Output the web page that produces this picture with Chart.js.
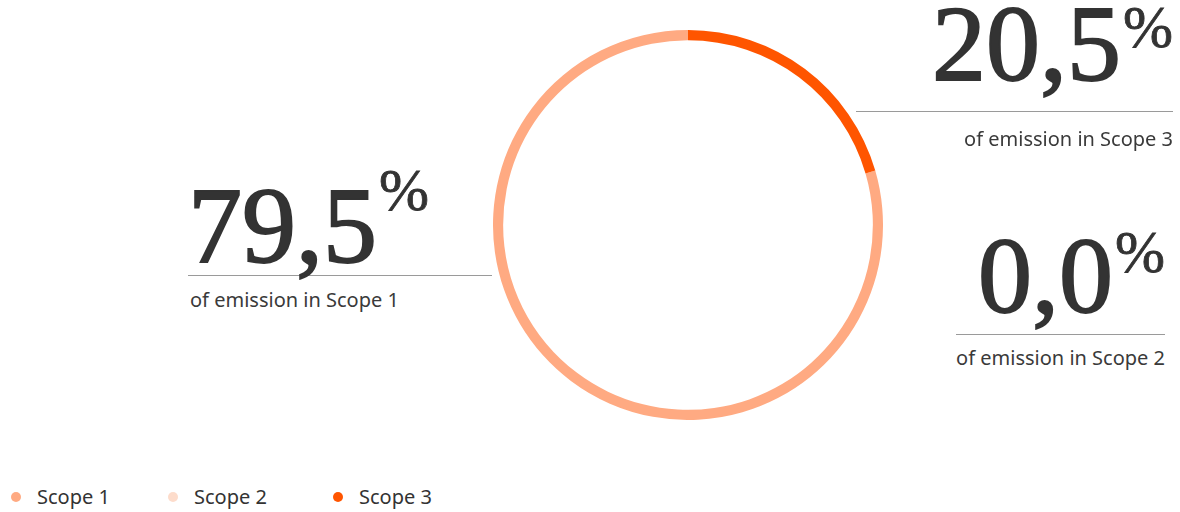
<!DOCTYPE html>
<html lang="en">
<head>
  <meta charset="UTF-8">
  <title>Emissions by Scope</title>
  <style>
    html, body {
      margin: 0;
      padding: 0;
      background: #fff;
    }

    body {
      position: relative;
      width: 1180px;
      height: 512px;
      overflow: hidden;
      font-family: "Noto Sans", "Open Sans", sans-serif;
      color: #3a3a3a;
    }

    #ringWrap {
      position: absolute;
      left: 493px;
      top: 30px;
      width: 390px;
      height: 390px;
    }

    .stat {
      position: absolute;
    }

    .stat .num {
      font-family: "Liberation Serif", "DejaVu Serif", serif;
      font-size: 108px;
      line-height: 108px;
      height: 108px;
      color: #333;
      white-space: nowrap;
      -webkit-text-stroke: 1.8px #333;
    }

    .stat .num sup {
      font-size: 60px;
      vertical-align: 0;
      position: relative;
      margin-left: 2px;
      -webkit-text-stroke: 0.8px #333;
    }

    .stat .rule {
      height: 1px;
      background: #9a9a9a;
    }

    .stat .cap {
      font-size: 20px;
      line-height: 24px;
      color: #3a3a3a;
      white-space: nowrap;
    }

    .right { text-align: right; }

    /* per-block vertical spacing, read off the reference */
    #s0 .rule { margin-top: -4.5px; }
    #s0 .cap  { margin-top: 12px; padding-left: 2px; }
    #s0 sup   { top: -52px; }
    #s1 .rule { margin-top: 4.5px; }
    #s1 .cap  { margin-top: 11px; }
    #s1 sup   { top: -40px; }
    #s2 .rule { margin-top: 13.5px; }
    #s2 .cap  { margin-top: 15px; }
    #s2 sup   { top: -33px; }

    #legend {
      position: absolute;
      left: 0;
      top: 485px;
      height: 24px;
    }

    .item {
      position: absolute;
      top: 0;
      display: flex;
      align-items: center;
      font-size: 20px;
      line-height: 24px;
      color: #333;
      white-space: nowrap;
    }

    .dot {
      width: 10px;
      height: 10px;
      border-radius: 50%;
      margin-right: 16px;
    }
  </style>
</head>
<body>
<div id="ringWrap"><canvas id="ring"></canvas></div>

<div class="stat" id="s0" style="left:188px; top:171.5px; width:304px;"></div>
<div class="stat right" id="s2" style="left:856px; top:-10.5px; width:317px;"></div>
<div class="stat right" id="s1" style="left:956px; top:221.5px; width:209px;"></div>

<div id="legend"></div>

<script src="https://cdn.jsdelivr.net/npm/chart.js"></script>
<script>
  const scopes = ['Scope 1', 'Scope 2', 'Scope 3'];
  const shares = [79.5, 0.0, 20.5];
  const colors = ['#ffaa82', '#fddccb', '#ff5500'];
  const legendX = [11, 168, 333];

  // big figures next to the ring
  function fmt(v) {
    return v.toFixed(1).replace('.', ',');
  }

  shares.forEach((v, i) => {
    const el = document.getElementById('s' + i);
    el.innerHTML =
      '<div class="num">' + fmt(v) + '<sup>%</sup></div>' +
      '<div class="rule"></div>' +
      '<div class="cap">of emission in ' + scopes[i] + '</div>';
  });

  // legend
  const legend = document.getElementById('legend');
  scopes.forEach((s, i) => {
    const item = document.createElement('div');
    item.className = 'item';
    item.style.left = legendX[i] + 'px';
    item.innerHTML = '<span class="dot" style="background:' + colors[i] + '"></span>' + s;
    legend.appendChild(item);
  });

  const total = shares.reduce((a, b) => a + b, 0);

  new Chart(document.getElementById('ring'), {
    type: 'doughnut',
    data: {
      labels: scopes,
      datasets: [{
        data: shares,
        backgroundColor: colors,
        borderWidth: 0
      }]
    },
    options: {
      responsive: true,
      maintainAspectRatio: false,
      animation: false,
      cutout: '94.8%',
      // last slice (Scope 3) starts at 12 o'clock
      rotation: 360 * shares[2] / total,
      layout: { padding: 0 },
      plugins: {
        legend: { display: false },
        tooltip: { enabled: false }
      }
    }
  });
</script>
</body>
</html>
